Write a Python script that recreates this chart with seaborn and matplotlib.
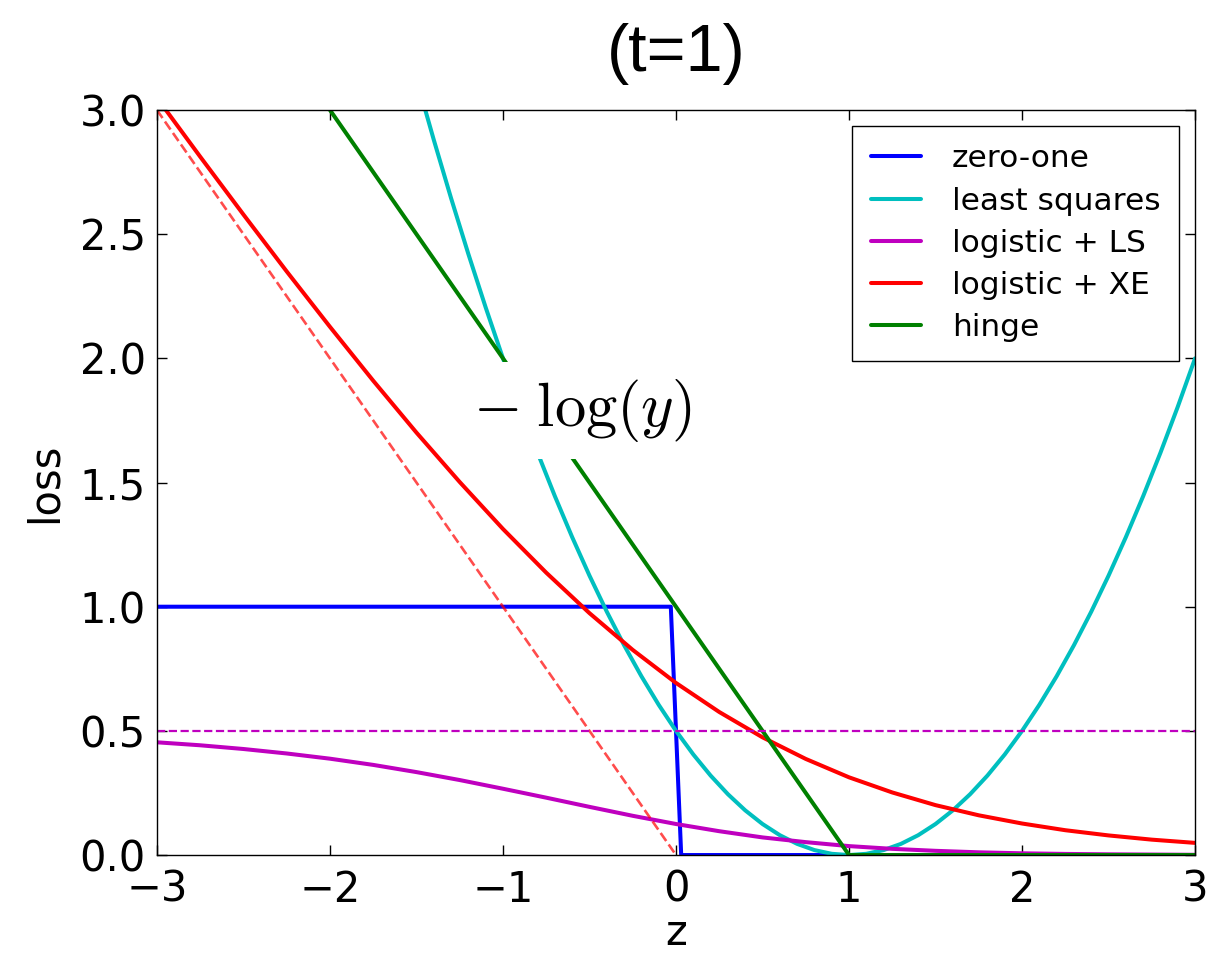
import matplotlib
matplotlib.use("Agg")
import matplotlib.pyplot as plt
import seaborn as sns

z_grid = [-3.0, -2.75, -2.5, -2.25, -2.0, -1.75, -1.5, -1.25, -1.0, -0.75, -0.5, -0.25,
          0.0, 0.25, 0.5, 0.75, 1.0, 1.25, 1.5, 1.75, 2.0, 2.25, 2.5, 2.75, 3.0]
logistic_ls = [0.454, 0.442, 0.427, 0.409, 0.388, 0.363, 0.334, 0.302, 0.267, 0.231, 0.194, 0.158,
               0.125, 0.096, 0.071, 0.052, 0.036, 0.025, 0.017, 0.011, 0.007, 0.0045, 0.003, 0.002, 0.001]
logistic_xe = [3.049, 2.812, 2.579, 2.350, 2.127, 1.910, 1.701, 1.502, 1.313, 1.137, 0.974, 0.826,
               0.693, 0.576, 0.474, 0.387, 0.313, 0.252, 0.201, 0.160, 0.127, 0.100, 0.079, 0.062, 0.049]

# least squares is sampled finer (every 0.1) since its bottom bends sharply
ls_z = [-1.6, -1.5, -1.4, -1.3, -1.2, -1.1, -1.0, -0.9, -0.8, -0.7, -0.6, -0.5, -0.4, -0.3,
        -0.2, -0.1, 0.0, 0.1, 0.2, 0.3, 0.4, 0.5, 0.6, 0.7, 0.8, 0.9, 1.0, 1.1, 1.2, 1.3,
        1.4, 1.5, 1.6, 1.7, 1.8, 1.9, 2.0, 2.1, 2.2, 2.3, 2.4, 2.5, 2.6, 2.7, 2.8, 2.9, 3.0]
least_squares = [3.38, 3.125, 2.88, 2.645, 2.42, 2.205, 2.0, 1.805, 1.62, 1.445, 1.28, 1.125,
                 0.98, 0.845, 0.72, 0.605, 0.5, 0.405, 0.32, 0.245, 0.18, 0.125, 0.08, 0.045,
                 0.02, 0.005, 0.0, 0.005, 0.02, 0.045, 0.08, 0.125, 0.18, 0.245, 0.32, 0.405,
                 0.5, 0.605, 0.72, 0.845, 0.98, 1.125, 1.28, 1.445, 1.62, 1.805, 2.0]

zero_one_z = [-3.0, -0.03, 0.03, 3.0]
zero_one = [1.0, 1.0, 0.0, 0.0]
hinge_z = [-3.0, 1.0, 3.0]
hinge = [4.0, 0.0, 0.0]
neglog_z = [-3.0, 0.0]
neglog = [3.0, 0.0]
half_z = [-3.0, 3.0]
half = [0.5, 0.5]

labels = ["zero-one", "least squares", "logistic + LS", "logistic + XE", "hinge"]
colors = ["#0000ff", "#00bfbf", "#bf00bf", "#ff0000", "#008000"]

sns.set_style("white")
plt.rcParams["font.family"] = ["DejaVu Sans"]
plt.rcParams["mathtext.fontset"] = "cm"
plt.rcParams["text.color"] = "black"
plt.rcParams["axes.labelcolor"] = "black"

fig = plt.figure(figsize=(12.31, 9.56), dpi=100)
ax = fig.add_axes([0.1275, 0.1056, 0.8433, 0.7793])

series = [(zero_one_z, zero_one), (ls_z, least_squares), (z_grid, logistic_ls),
          (z_grid, logistic_xe), (hinge_z, hinge)]
for (xs, ys), lab, col in zip(series, labels, colors):
    sns.lineplot(x=xs, y=ys, color=col, lw=2.9, label=lab, ax=ax,
                 estimator=None, sort=False)

sns.lineplot(x=neglog_z, y=neglog, color="#ff0000", lw=1.9, ls="--", alpha=0.7,
             ax=ax, estimator=None, legend=False)
sns.lineplot(x=half_z, y=half, color="#bf00bf", lw=1.6, ls="--",
             ax=ax, estimator=None, legend=False)

ax.set_xlim(-3, 3)
ax.set_ylim(0, 3)
ax.set_xticks([-3, -2, -1, 0, 1, 2, 3])
ax.set_yticks([0.0, 0.5, 1.0, 1.5, 2.0, 2.5, 3.0])
ax.set_yticklabels(["0.0", "0.5", "1.0", "1.5", "2.0", "2.5", "3.0"])
ax.tick_params(direction="in", length=7, width=1, labelsize=30, pad=8,
               top=True, right=True, bottom=True, left=True, colors="black")
ax.tick_params(axis="x", pad=10)
for sp in ax.spines.values():
    sp.set_color("black")
    sp.set_linewidth(1.0)

ax.set_xlabel("z", fontsize=30, labelpad=1)
ax.set_ylabel("loss", fontsize=30, labelpad=10)
ax.set_title("(t=1)", fontsize=48, family="Liberation Sans", pad=28, color="black")

ax.text(-0.54, 1.79, r"$-\;\log(y)$", fontsize=45, ha="center", va="center", zorder=10,
        bbox=dict(facecolor="white", edgecolor="none", pad=11))

handles = ax.get_lines()[:5]
leg = ax.legend(handles=handles, labels=labels, loc="upper right", fontsize=22.5,
                handlelength=1.6, handletextpad=1.0, labelspacing=0.42,
                fancybox=False, framealpha=1, edgecolor="black", borderpad=0.6)
leg.get_frame().set_linewidth(1.0)

fig.savefig("out.png", dpi=100)
